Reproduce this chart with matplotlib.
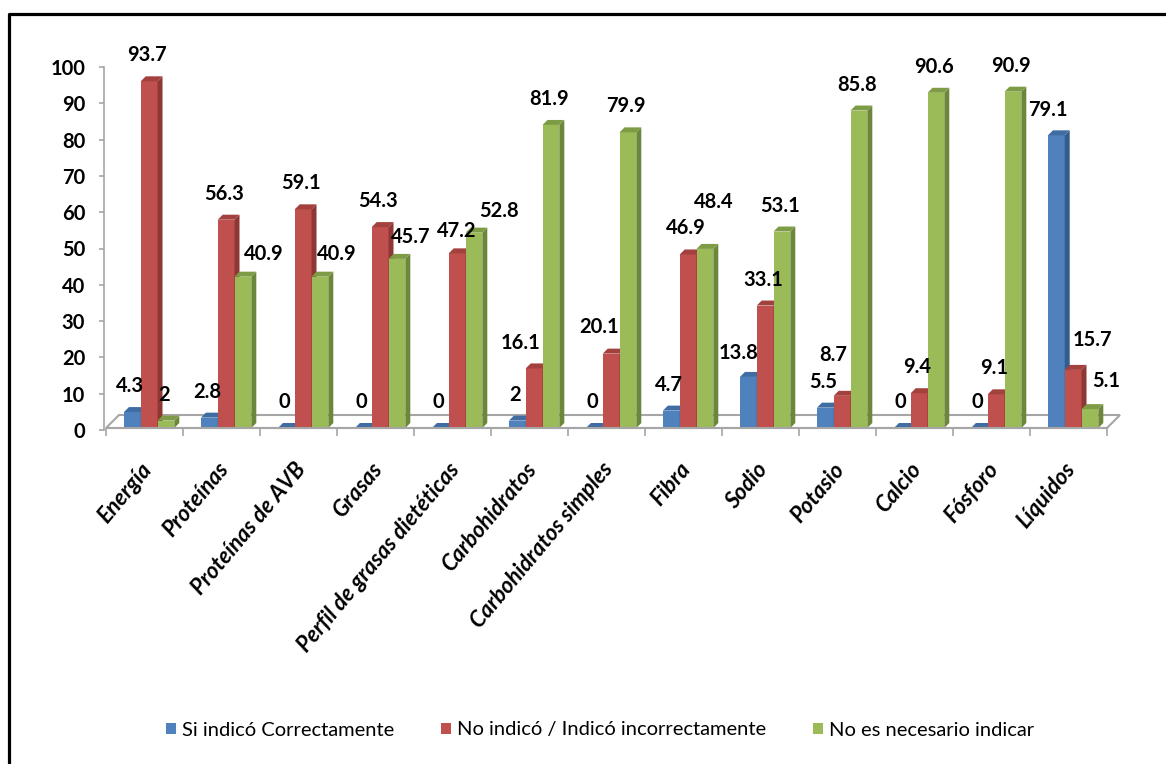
import matplotlib
matplotlib.use("Agg")
import matplotlib.pyplot as plt
from matplotlib.patches import Polygon, Patch
from matplotlib.lines import Line2D

# ---- data -------------------------------------------------------------
categories = ["Energía", "Proteínas", "Proteínas de AVB", "Grasas",
              "Perfil de grasas dietéticas", "Carbohidratos",
              "Carbohidratos simples", "Fibra", "Sodio", "Potasio",
              "Calcio", "Fósforo", "Líquidos"]
si_correcto = [4.3, 2.8, 0, 0, 0, 2, 0, 4.7, 13.8, 5.5, 0, 0, 79.1]
no_indico = [93.7, 56.3, 59.1, 54.3, 47.2, 16.1, 20.1, 46.9, 33.1, 8.7, 9.4, 9.1, 15.7]
no_necesario = [2, 40.9, 40.9, 45.7, 52.8, 81.9, 79.9, 48.4, 53.1, 85.8, 90.6, 90.9, 5.1]
series_names = ["Si indicó Correctamente",
                "No indicó / Indicó incorrectamente",
                "No es necesario indicar"]
y_ticks = [0, 10, 20, 30, 40, 50, 60, 70, 80, 90, 100]

# ---- style ------------------------------------------------------------
plt.rcParams["font.family"] = ["Lato", "DejaVu Sans"]
W, H = 1166, 764
front_colors = ["#4F81BD", "#C0504D", "#9BBB59"]
side_colors = ["#345D8E", "#8E3735", "#6C873A"]
top_colors = ["#3F6CA3", "#A2413E", "#7E9C45"]
axis_grey = "#A6A6A6"
LABEL_SIZE = 14.5
CAT_SIZE = 16

fig = plt.figure(figsize=(W / 100, H / 100), dpi=100)
fig.patch.set_facecolor("white")

# main plotting area (bar fronts)
ax = fig.add_axes([106 / W, (H - 428) / H, 1001 / W, 370 / H])
ax.set_xlim(-0.5, len(categories) - 0.5)
ax.set_ylim(0, 100)
for s in ax.spines.values():
    s.set_visible(False)
ax.set_yticks([])
ax.set_xticks([i - 0.5 for i in range(len(categories) + 1)])
ax.set_xticklabels([])
ax.tick_params(axis="x", direction="out", length=5.8, width=1.2, colors=axis_grey)
ax.patch.set_alpha(0)

# pseudo-3D depth of each bar and of the floor (data units)
px_x = 1001 / len(categories)      # pixels per category
px_y = 370 / 100                   # pixels per value unit
bdx, bdy = 5 / px_x, 5 / px_y
fdx, fdy = 13 / px_x, 13 / px_y

floor = Polygon([(-0.5, 0), (len(categories) - 0.5, 0),
                 (len(categories) - 0.5 + fdx, fdy), (-0.5 + fdx, fdy)],
                closed=True, facecolor="white", edgecolor=axis_grey,
                linewidth=1.5, zorder=1, clip_on=False)
ax.add_patch(floor)
ax.plot([-0.5, len(categories) - 0.5], [0, 0], color=axis_grey, lw=1.5,
        zorder=6, clip_on=False, solid_capstyle="butt")

width = 0.218
shift = 0.06
series = [si_correcto, no_indico, no_necesario]
positions = list(range(len(categories)))

# label nudges in pixels (dx, dy above the bar top) where labels were moved
default_off = (-2, 26)
nudges = {(1, 2): (21, 23), (2, 2): (17, 23), (3, 2): (14, 22),
          (4, 1): (0, 22), (4, 2): (25, 22), (5, 1): (-14, 25),
          (6, 1): (-12, 27), (7, 2): (9, 47), (8, 0): (-10, 24),
          (9, 1): (-9, 41), (12, 0): (-8, 25), (12, 1): (19, 30),
          (12, 2): (16, 28)}

for j, vals in enumerate(series):
    xs = [p + shift + (j - 1) * width for p in positions]
    bars = ax.bar(xs, vals, width=width, color=front_colors[j],
                  linewidth=0, zorder=2 + j * 0.1, clip_on=False)
    for i, rect in enumerate(bars):
        x0 = rect.get_x()
        x1 = x0 + rect.get_width()
        v = rect.get_height()
        side = Polygon([(x1, 0), (x1 + bdx, bdy), (x1 + bdx, v + bdy), (x1, v)],
                       closed=True, facecolor=side_colors[j], linewidth=0,
                       zorder=2 + j * 0.1, clip_on=False)
        top = Polygon([(x0, v), (x0 + bdx, v + bdy), (x1 + bdx, v + bdy), (x1, v)],
                      closed=True, facecolor=top_colors[j], linewidth=0,
                      zorder=2 + j * 0.1, clip_on=False)
        ax.add_patch(side)
        ax.add_patch(top)
        dx, dy = nudges.get((i, j), default_off)
        ax.annotate(f"{vals[i]:g}", xy=(x0 + rect.get_width() / 2, v),
                    xytext=(dx, dy), textcoords="offset pixels",
                    ha="center", va="center", fontsize=LABEL_SIZE,
                    fontweight="bold", zorder=8, annotation_clip=False)

# category labels
for i, cat in enumerate(categories):
    ax.annotate(cat, xy=(i, 0), xytext=(-5, -31), textcoords="offset pixels",
                rotation=50, rotation_mode="anchor", ha="right", va="top",
                fontsize=CAT_SIZE, fontweight="bold", fontstyle="italic",
                annotation_clip=False)

# value axis
ay = fig.add_axes([104 / W, (H - 430) / H, 0.0001, 363 / H])
ay.set_ylim(0, 100)
ay.set_yticks(y_ticks)
ay.set_xticks([])
for name, s in ay.spines.items():
    s.set_visible(name == "left")
ay.spines["left"].set_color(axis_grey)
ay.spines["left"].set_linewidth(1.2)
ay.tick_params(axis="y", direction="out", length=3.6, width=1.2,
               colors=axis_grey, labelcolor="black", pad=10,
               labelsize=LABEL_SIZE)
for lab in ay.get_yticklabels():
    lab.set_fontweight("bold")

# legend
handles = [Patch(facecolor=c, edgecolor="none") for c in front_colors]
fig.legend(handles, series_names, loc="center", ncol=3, frameon=False,
           bbox_to_anchor=(600 / W, (H - 730) / H), fontsize=14.5,
           handlelength=0.5, handleheight=0.5, handletextpad=0.3,
           columnspacing=2.3)

# outer frame (top and left edges)
fig.add_artist(Line2D([8.5 / W, 8.5 / W, 1.01], [-0.01, 1 - 13.5 / H, 1 - 13.5 / H],
                      color="black", lw=2.3, transform=fig.transFigure))

fig.savefig("out.png", dpi=100)
